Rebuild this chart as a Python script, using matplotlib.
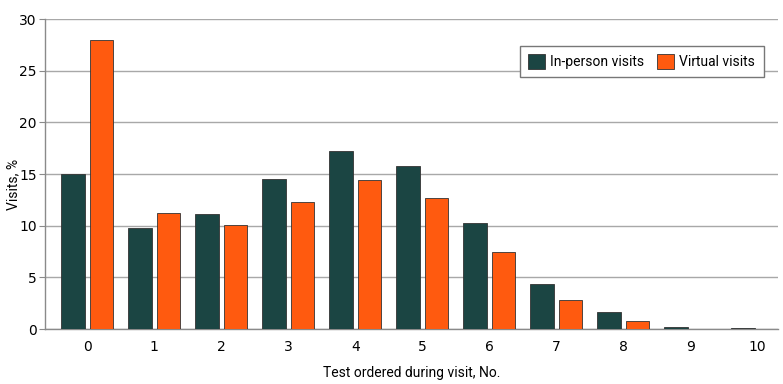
import numpy as np
import matplotlib.pyplot as plt

tests = list(range(11))
in_person = [15.0, 9.8, 11.1, 14.5, 17.2, 15.8, 10.3, 4.4, 1.6, 0.2, 0.05]
virtual = [28.0, 11.2, 10.1, 12.3, 14.4, 12.7, 7.5, 2.8, 0.8, 0.0, 0.0]

teal = '#1b4543'
orange = '#ff5a0f'
grid_col = '#a8a8a8'
label_font = ['Roboto', 'DejaVu Sans']

fig = plt.figure(figsize=(7.83, 3.84), dpi=100)
ax = fig.add_axes([0.0575, 0.1432, 0.936, 0.8073])

x = np.array(tests)
w = 0.35
ax.bar(x - 0.21, in_person, w, color=teal, edgecolor='#333333', linewidth=0.6,
       label='In-person visits', zorder=3)
ax.bar(x + 0.21, virtual, w, color=orange, edgecolor='#333333', linewidth=0.6,
       label='Virtual visits', zorder=3)

ax.set_xlim(-0.63, 10.31)
ax.set_ylim(0, 30)
ax.set_yticks(range(0, 31, 5))
ax.set_xticks(tests)
ax.yaxis.grid(True, color=grid_col, linewidth=1.0, zorder=0)
ax.set_axisbelow(True)

for s in ['top', 'right']:
    ax.spines[s].set_visible(False)
for s in ['left', 'bottom']:
    ax.spines[s].set_color('#8a8a8a')
    ax.spines[s].set_linewidth(1.0)
ax.tick_params(axis='y', length=4, color='#8a8a8a', labelsize=10, pad=2)
ax.tick_params(axis='x', length=0, labelsize=10, pad=8)
for t in ax.get_xticklabels() + ax.get_yticklabels():
    t.set_family('DejaVu Sans')

ax.set_xlabel('Test ordered during visit, No.', fontsize=10, family=label_font)
ax.set_ylabel('Visits, %', fontsize=10, family=label_font)
ax.xaxis.set_label_coords(0.5, -0.119)
ax.yaxis.set_label_coords(-0.034, 0.465)

leg = ax.legend(loc='upper left', bbox_to_anchor=(0.648, 0.913), ncol=2, frameon=True,
                fancybox=False, edgecolor='#777777', framealpha=1,
                prop={'family': label_font, 'size': 10},
                handlelength=1.2, handleheight=1.2, columnspacing=0.9,
                handletextpad=0.4, borderpad=0.6, borderaxespad=0)
leg.get_frame().set_linewidth(1.0)

fig.savefig('out.png', dpi=100)
